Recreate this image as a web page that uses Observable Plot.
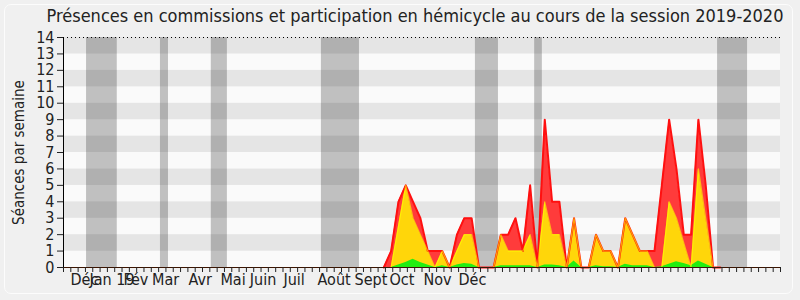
<!DOCTYPE html>
<html><head><meta charset="utf-8">
<script src="https://cdn.jsdelivr.net/npm/d3@7"></script>
<script src="https://cdn.jsdelivr.net/npm/@observablehq/plot@0.6"></script>
<style>
html,body{margin:0;padding:0;background:#f0f0f0;}
#wrap{position:relative;width:800px;height:300px;overflow:hidden;font-family:"DejaVu Sans Condensed","DejaVu Sans",sans-serif;font-stretch:condensed;}
#frame{position:absolute;left:4px;top:4px;width:787px;height:288px;border:1px solid #fcfcfc;border-radius:7px;}
#title{position:absolute;left:0;top:5px;width:830px;text-align:center;font-size:18px;color:#222;white-space:nowrap;}
#chart{position:absolute;left:0;top:0;}
</style></head><body>
<div id="wrap"><div id="frame"></div><div id="title">Présences en commissions et participation en hémicycle au cours de la session 2019-2020</div><div id="chart"></div></div>
<script>
// weekly values, first value sits at week index firstWeek
const firstWeek = 43.78;
const red    = [0,1,4,5,4,3,1,1,1,0,2,3,3,0,0,0,2,2,3,1,5,0,9,4,4,0,3,0,0,2,1,1,0,3,2,1,1,1,5,9,6,2,2,9,5,0,0];
const yellow = [0,0,2.5,5,3,2,1,0,1,0,1,2,2,0,0,0,2,1,1,1,2,0,4,2,2,0,3,0,0,2,1,1,0,3,2,1,1,0,0,4,3,1.5,0,6,3,0,0];
const green  = [0,0,0.15,0.3,0.5,0.3,0.15,0,0.1,0,0.15,0.25,0.2,0,0,0,0.1,0.1,0.1,0.1,0.1,0,0.15,0.15,0.1,0,0.4,0,0,0.1,0.05,0.05,0,0.2,0.1,0.1,0.1,0,0.05,0.2,0.35,0.25,0.1,0.4,0.2,0,0];
// parliamentary holidays (week index start, end)
const holidayStart = [3.15, 13.25, 20.2, 35.25, 56.3, 64.4, 89.4];
const holidayEnd   = [7.35, 14.35, 22.4, 40.45, 59.45, 65.45, 93.5];
// month labels
const monthNames = ["Déc","Jan 19","Fév","Mar","Avr","Mai","Juin","Juil","Août","Sept","Oct","Nov","Déc"];
const monthWeeks = [0.96, 3.55, 8.2, 12.1, 17.09, 21.45, 25.47, 30.07, 34.72, 39.78, 44.56, 49.21, 53.99];
const yTicks = [0,1,2,3,4,5,6,7,8,9,10,11,12,13,14];
const nWeeks = 98;
const yLabel = "Séances par semaine";

const data = red.map((r,i)=>({w:firstWeek+i, red:r, yellow:yellow[i], green:green[i]}));
const holidays = holidayStart.map((s,i)=>({x1:s, x2:holidayEnd[i]}));
const bands = yTicks.slice(0,-1).map(v=>({y1:v, y2:v+1, odd:v%2===1}));
const months = monthNames.map((n,i)=>({name:n, w:monthWeeks[i]}));
const weekTicks = d3.range(0, nWeeks+1);

const fontFam = '"DejaVu Sans Condensed","DejaVu Sans",sans-serif';
const chart = Plot.plot({
  width: 800, height: 300,
  marginLeft: 63, marginRight: 20, marginTop: 37, marginBottom: 33,
  style: {background: "transparent", fontFamily: fontFam, fontSize: "16px", color: "#222"},
  x: {domain: [0, nWeeks], axis: null},
  y: {domain: [0, 14], axis: null},
  marks: [
    Plot.rect(bands, {x1: 0, x2: nWeeks, y1: "y1", y2: "y2", fill: d => d.odd ? "#e5e5e5" : "#fafafa"}),
    Plot.rect(holidays, {x1: "x1", x2: "x2", y1: 0, y2: 14, fill: "#000", fillOpacity: 0.23}),
    Plot.ruleY([14], {stroke: "#000", strokeDasharray: "1,3", strokeWidth: 1}),
    Plot.areaY(data, {x: "w", y: "red", fill: "#ff3b3b"}),
    Plot.areaY(data, {x: "w", y: "yellow", fill: "#ffd60a"}),
    Plot.areaY(data, {x: "w", y: "green", fill: "#22ee11"}),
    Plot.lineY(data, {x: "w", y: "red", stroke: "#ff1010", strokeWidth: 2}),
    Plot.lineY(data, {x: "w", y: "yellow", stroke: "#ffff00", strokeWidth: 1.2, strokeOpacity: 0.6}),
    Plot.ruleY([0], {stroke: "#3c1400", strokeWidth: 1.2}),
    Plot.ruleX([0], {y1: 0, y2: 14, stroke: "#000"}),
    Plot.axisY({ticks: yTicks, tickSize: 6, tickPadding: 3, fontSize: 16, label: null, tickFormat: d => String(d)}),
    Plot.axisX({ticks: weekTicks, tickSize: 5, tickFormat: () => "", label: null}),
    Plot.text(months, {x: "w", y: () => 0, text: "name", textAnchor: "start", lineAnchor: "top", dy: 6, fontSize: 16}),
    Plot.text([yLabel], {frameAnchor: "left", rotate: -90, dx: -44, textAnchor: "middle", text: d => d, fontSize: 15})
  ]
});
document.getElementById("chart").appendChild(chart);
</script>
</body></html>
